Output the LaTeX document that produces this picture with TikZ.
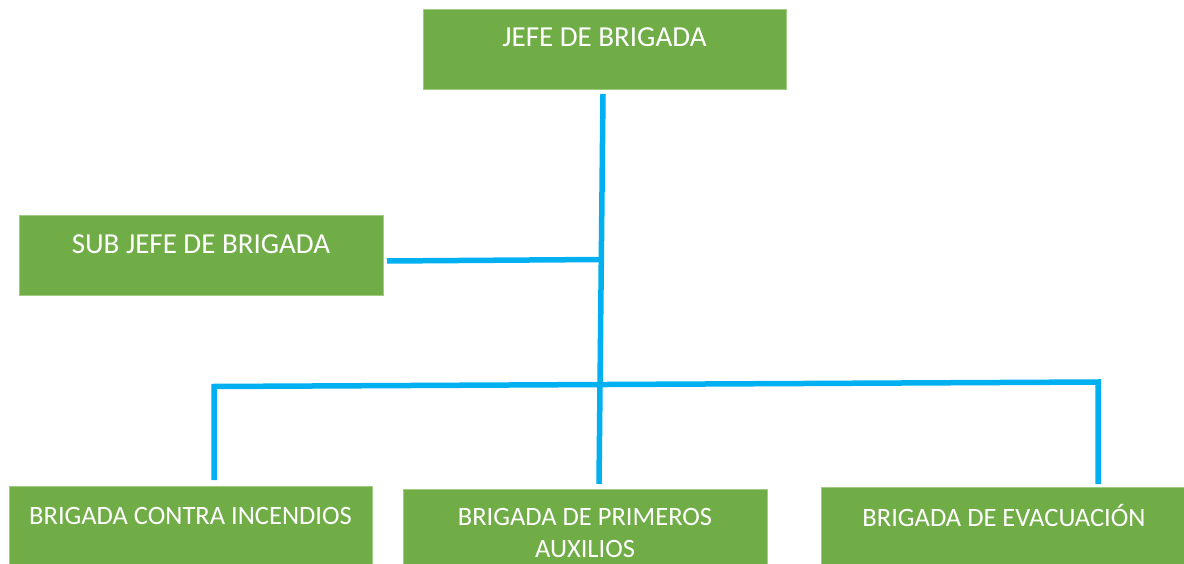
\documentclass[tikz,border=0pt]{standalone}
\usepackage{fontspec}
\setmainfont{Carlito}
\usepackage{xcolor}
\definecolor{brigreen}{RGB}{112,173,71}
\definecolor{brigedge}{RGB}{160,204,130}
\definecolor{brigblue}{RGB}{0,176,240}

\begin{document}
\begin{tikzpicture}[x=1pt,y=-1pt,
  caja/.style={draw=brigedge,line width=0.8pt,fill=brigreen,rectangle,anchor=north west,inner sep=0pt},
  rotulo/.style={text=white,anchor=base,inner sep=0pt},
  grande/.style={font=\fontsize{29}{35}\selectfont},
  chico/.style={font=\fontsize{26.5}{34}\selectfont},
  enlace/.style={draw=brigblue,line width=5.5pt}]
\useasboundingbox (0,0) rectangle (1184,564);

% jefe de brigada
\node[caja,minimum width=363pt,minimum height=80pt] (jefe) at (423,9) {};
\node[rotulo,grande] (jefe-t) at (604.5,47) {JEFE DE BRIGADA};

% sub jefe
\node[caja,minimum width=364pt,minimum height=80pt] (sub) at (19,215) {};
\node[rotulo,grande] (sub-t) at (201,254) {SUB JEFE DE BRIGADA};

% brigadas
\node[caja,minimum width=363pt,minimum height=90pt] (incendios) at (9,486) {};
\node[rotulo,chico] (incendios-t) at (190.5,524) {BRIGADA CONTRA INCENDIOS};

\node[caja,minimum width=364pt,minimum height=90pt] (auxilios) at (403,489) {};
\node[rotulo,chico] (auxilios-t) at (585,525) {BRIGADA DE PRIMEROS};
\node[rotulo,chico,text depth=0pt] (auxilios-t2) at (585,557) {AUXILIOS};

\node[caja,minimum width=370pt,minimum height=90pt] (evacuacion) at (821,487) {};
\node[rotulo,chico] (evacuacion-t) at (1004,526) {BRIGADA DE EVACUACIÓN};

% conectores
\coordinate (troncoA) at (603,94);
\coordinate (troncoB) at (599,484);
\coordinate (subA) at (387,261);
\coordinate (subB) at (601,259.5);
\coordinate (ramaA) at (214,480);
\coordinate (ramaB) at (214,386.5);
\coordinate (ramaC) at (1098,382);
\coordinate (ramaD) at (1098,484);

\draw[enlace] (troncoA) -- (troncoB);
\draw[enlace] (subA) -- (subB);
\draw[enlace] (ramaA) -- (ramaB) -- (ramaC) -- (ramaD);
\end{tikzpicture}
\end{document}
